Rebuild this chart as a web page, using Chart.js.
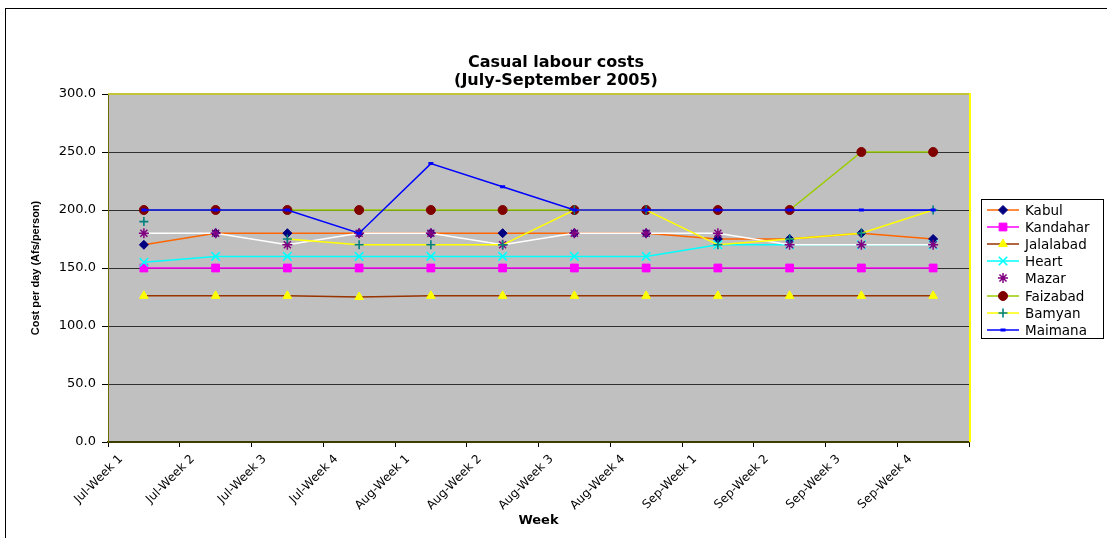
<!DOCTYPE html>
<html><head><meta charset="utf-8">
<script src="https://cdn.jsdelivr.net/npm/chart.js@4.4.1/dist/chart.umd.min.js"></script>
<style>html,body{margin:0;padding:0;background:#fff;overflow:hidden}#wrap{position:relative;width:1107px;height:538px}</style>
</head><body><div id="wrap"><canvas id="c"></canvas></div>
<script>
const titleLines = ['Casual labour costs', '(July-September 2005)'];
const xTitle = 'Week';
const yTitle = 'Cost per day (Afs/person)';
const categories = ['Jul-Week 1','Jul-Week 2','Jul-Week 3','Jul-Week 4','Aug-Week 1','Aug-Week 2','Aug-Week 3','Aug-Week 4','Sep-Week 1','Sep-Week 2','Sep-Week 3','Sep-Week 4'];
const seriesNames = ['Kabul','Kandahar','Jalalabad','Heart','Mazar','Faizabad','Bamyan','Maimana'];
const kabul     = [170,180,180,180,180,180,180,180,175,175,180,175];
const kandahar  = [150,150,150,150,150,150,150,150,150,150,150,150];
const jalalabad = [126,126,126,125,126,126,126,126,126,126,126,126];
const heart     = [155,160,160,160,160,160,160,160,170,170,170,170];
const mazar     = [180,180,170,180,180,170,180,180,180,170,170,170];
const faizabad  = [200,200,200,200,200,200,200,200,200,200,250,250];
const bamyan    = [190,null,175,170,170,170,200,200,170,175,180,200];
const maimana   = [200,200,200,180,240,220,200,200,200,200,200,200];
const yMin = 0, yMax = 300, yStep = 50;

const styles = [
  {line:'#FF6600', mk:'#000080', ps:'rectRot', r:4.5, bw:1},
  {line:'#FF00FF', mk:'#FF00FF', ps:'rect', r:5.5, bw:1},
  {line:'#993300', mk:'#FFFF00', ps:'triangle', r:5, bw:1},
  {line:'#00FFFF', mk:'#00FFFF', ps:'crossRot', r:6, bw:1.6},
  {line:'#FFFFFF', mk:'#800080', ps:'star', r:5, bw:1.5},
  {line:'#99CC00', mk:'#800000', ps:'circle', r:4.5, bw:1},
  {line:'#FFFF00', mk:'#008080', ps:'cross', r:4.5, bw:1.6},
  {line:'#0000FF', mk:'#0000FF', ps:'line', r:2.5, bw:3}
];
const values = [kabul,kandahar,jalalabad,heart,mazar,faizabad,bamyan,maimana];

const datasets = values.map((v,i)=>({
  label: seriesNames[i], data: v,
  borderColor: styles[i].line, backgroundColor: styles[i].mk,
  borderWidth: 1.5,
  pointStyle: styles[i].ps, pointRadius: styles[i].r, pointHoverRadius: styles[i].r,
  pointBackgroundColor: styles[i].mk, pointBorderColor: styles[i].mk,
  pointBorderWidth: styles[i].bw,
  tension: 0, spanGaps: false,
  order: values.length - i
}));

const PA = {left:108, right:969, top:94, bottom:442};

const decor = {
  id:'decor',
  beforeDraw(chart){
    const ctx = chart.ctx, a = chart.chartArea;
    ctx.save();
    ctx.fillStyle='#fff'; ctx.fillRect(0,0,chart.width,chart.height);
    ctx.strokeStyle='#000'; ctx.lineWidth=1;
    ctx.strokeRect(5.5,8.5,1200,700);
    ctx.fillStyle='#C0C0C0'; ctx.fillRect(a.left,a.top,a.right-a.left,a.bottom-a.top);
    ctx.restore();
  },
  afterDraw(chart){
    const ctx = chart.ctx, a = chart.chartArea;
    ctx.save();
    ctx.strokeStyle='#C4C43A'; ctx.lineWidth=2;
    ctx.beginPath(); ctx.moveTo(a.left, a.top); ctx.lineTo(a.right, a.top); ctx.stroke();
    ctx.strokeStyle='#FFFF00';
    ctx.beginPath(); ctx.moveTo(a.right+1, a.top-1); ctx.lineTo(a.right+1, a.bottom); ctx.stroke();
    ctx.fillStyle='#000'; ctx.textAlign='center'; ctx.textBaseline='middle';
    ctx.font='bold 16px "DejaVu Sans"';
    ctx.fillText(titleLines[0], 556, 63);
    ctx.fillText(titleLines[1], 556, 81);
    const lx=981, ly=199, lw=122, lh=139;
    ctx.fillStyle='#fff'; ctx.fillRect(lx,ly,lw,lh);
    ctx.strokeStyle='#000'; ctx.lineWidth=1; ctx.strokeRect(lx+0.5,ly+0.5,lw,lh);
    ctx.font='13.5px "DejaVu Sans"'; ctx.textAlign='left'; ctx.textBaseline='middle';
    chart.data.datasets.forEach((ds,i)=>{
      const y = Math.round(210 + i*17.1);
      ctx.strokeStyle = ds.borderColor; ctx.lineWidth=1.5;
      ctx.beginPath(); ctx.moveTo(987,y); ctx.lineTo(1019,y); ctx.stroke();
      ctx.fillStyle = ds.pointBackgroundColor; ctx.strokeStyle = ds.pointBorderColor;
      ctx.lineWidth = ds.pointBorderWidth;
      Chart.helpers.drawPoint(ctx,{pointStyle:ds.pointStyle, radius:ds.pointRadius, rotation:0, borderWidth:ds.pointBorderWidth},1003,y);
      ctx.fillStyle='#000';
      ctx.fillText(ds.label, 1025, y+1);
    });
    ctx.restore();
  }
};

new Chart(document.getElementById('c'), {
  type:'line',
  data:{labels:categories, datasets},
  options:{
    responsive:true, maintainAspectRatio:false, animation:false,
    layout:{padding:{left:0, top:PA.top, right:1107-PA.right, bottom:0}},
    plugins:{legend:{display:false}, title:{display:false}, tooltip:{enabled:false}},
    scales:{
      x:{
        type:'category', offset:true,
        afterFit(s){ s.height = 538-PA.bottom; },
        grid:{offset:true, drawOnChartArea:false, tickLength:5, color:'#000', tickColor:'#000'},
        border:{display:true, color:'#3C3C00', width:2},
        ticks:{minRotation:45, maxRotation:45, autoSkip:false, color:'#000', font:{family:'DejaVu Sans', size:12}, labelOffset:-23, padding:5},
        title:{display:true, text:xTitle, color:'#000', font:{family:'DejaVu Sans', size:13, weight:'bold'}, padding:{top:0,bottom:10}}
      },
      y:{
        min:yMin, max:yMax,
        afterFit(s){ s.width = PA.left; },
        grid:{color:(c)=> (c.tick && (c.tick.value===yMin || c.tick.value===yMax)) ? 'rgba(0,0,0,0)' : '#303030', tickColor:'#000', tickLength:6, lineWidth:1},
        border:{display:true, color:'#6B6B00', width:1},
        ticks:{stepSize:yStep, color:'#000', padding:6, font:{family:'DejaVu Sans', size:13}, callback:(v)=>Number(v).toFixed(1)},
        title:{display:true, text:yTitle, color:'#000', font:{family:'Liberation Sans', size:11, weight:'bold'}, padding:{top:29,bottom:0}}
      }
    }
  },
  plugins:[decor]
});
</script>
</body></html>
